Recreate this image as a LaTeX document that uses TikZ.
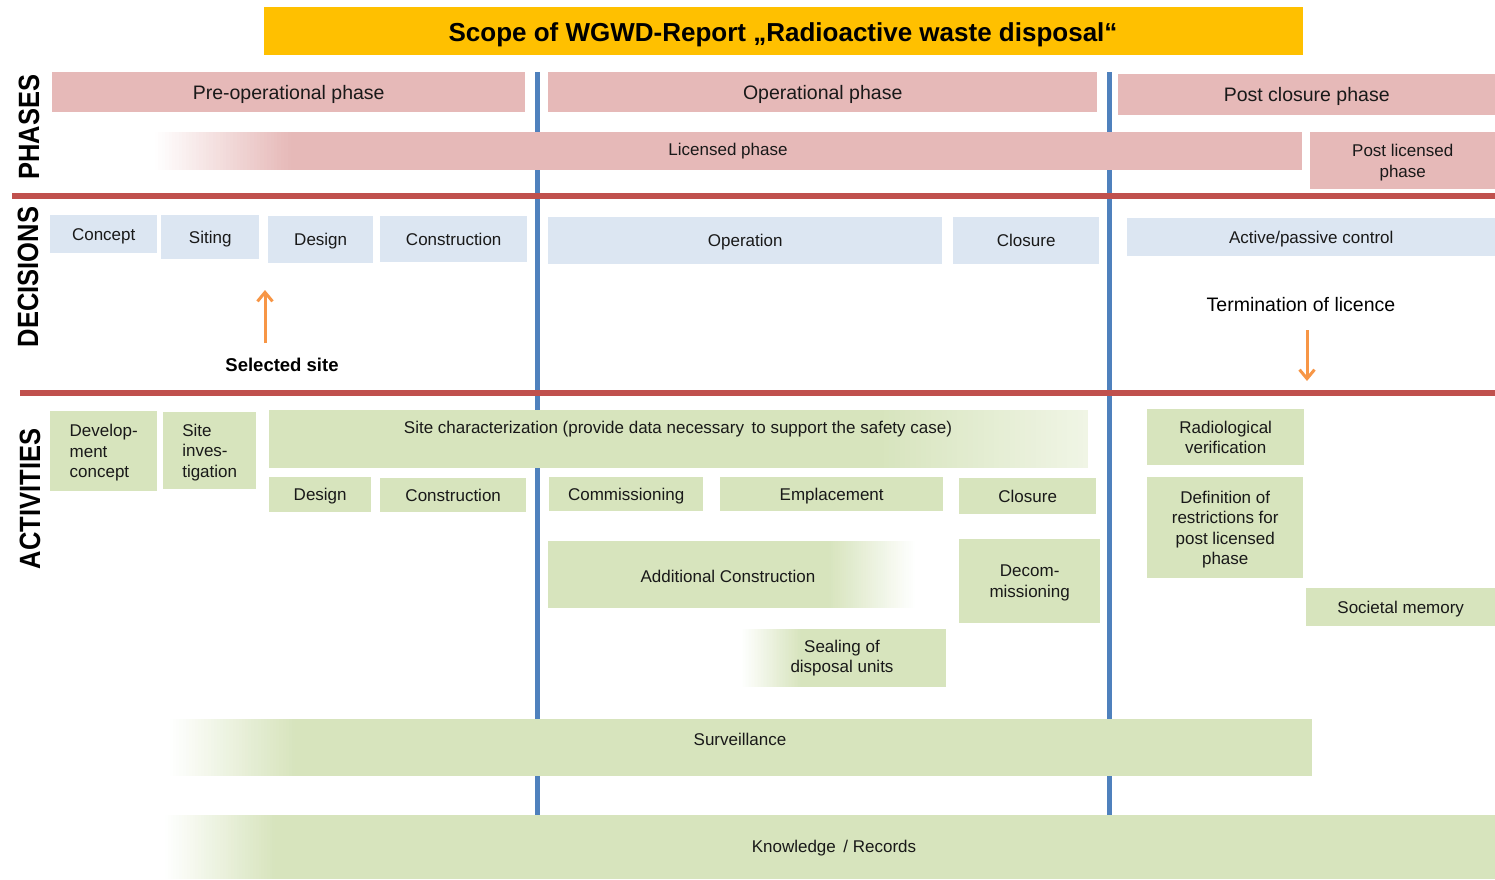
\documentclass[tikz,border=0pt]{standalone}
\usepackage{fontspec}
\setmainfont{Liberation Sans}
\usetikzlibrary{arrows.meta,calc}

\definecolor{phasepink}{RGB}{230,185,184}
\definecolor{decblue}{RGB}{220,230,242}
\definecolor{actgreen}{RGB}{215,228,189}
\definecolor{palegreen}{RGB}{240,245,230}
\definecolor{titleyellow}{RGB}{255,192,0}
\definecolor{divblue}{RGB}{79,129,189}
\definecolor{divred}{RGB}{192,80,77}
\definecolor{arroworange}{RGB}{247,150,70}
\definecolor{ink}{RGB}{25,25,25}

% a box given by its corners: style, x1, y1, x2, y2, name, text
\newcommand\putbox[7]{%
  \node[#1, minimum width={#4-#2}, minimum height={#5-#3}] (#6) at (#2,#3) {#7};}

% horizontal colour ramp in thin strips: x1, y1, x2, y2, start colour, end colour
\newcommand\hfade[6]{%
  \foreach \i in {0,...,39}{%
    \pgfmathsetmacro\xa{#1+(#3-#1)*\i/40}%
    \pgfmathsetmacro\xb{min(#1+(#3-#1)*(\i+1)/40+0.6,#3)}%
    \pgfmathsetmacro\p{(\i+0.5)*2.5}%
    \fill[#6!\p!#5] (\xa,#2) rectangle (\xb,#4);}}

\tikzset{
  box/.style={draw=none, inner sep=0pt, anchor=north west, align=center,
    text depth=0pt, text=ink, font=\fontsize{17}{20.5}\selectfont},
  phasebox/.style={box, fill=phasepink},
  phasehead/.style={phasebox, font=\fontsize{19.5}{22}\selectfont},
  decbox/.style={box, fill=decblue},
  actbox/.style={box, fill=actgreen},
  lbl/.style={inner sep=0pt, text=ink, align=center, font=\fontsize{17}{20.5}\selectfont},
  sidelabel/.style={inner sep=0pt, rotate=90, text=black,
    font=\bfseries\fontsize{25.5}{26}\selectfont},
  divider/.style={line width=5pt, draw=divblue},
  band/.style={line width=6pt, draw=divred},
  pointer/.style={line width=3pt, draw=arroworange,
    -{Straight Barb[length=9pt,width=15pt,line width=3pt]}},
}

\begin{document}
\begin{tikzpicture}[x=1pt, y=-1pt]
\useasboundingbox (0,0) rectangle (1495,879);

% phase dividers
\coordinate (divAtop) at (537,72);
\coordinate (divAbot) at (537,815);
\coordinate (divBtop) at (1109,72);
\coordinate (divBbot) at (1109,815);
\draw[divider] (divAtop) -- (divAbot);
\draw[divider] (divBtop) -- (divBbot);

% section bands
\coordinate (bandAl) at (12,196);
\coordinate (bandAr) at (1495,196);
\coordinate (bandBl) at (20,393);
\coordinate (bandBr) at (1495,393);
\draw[band] (bandAl) -- (bandAr);
\draw[band] (bandBl) -- (bandBr);

% title
\putbox{box, fill=titleyellow}{264}{7}{1303}{55}{title}{}
\node[inner sep=0pt, text=black, font=\bfseries\fontsize{26}{28}\selectfont] (titleText) at (783,35) {Scope of WGWD-Report „Radioactive waste disposal“};

% row labels
\node[sidelabel] (phasesLbl) at (29,127) {\scalebox{1}[1.15]{PHASES}};
\node[sidelabel] (decisionsLbl) at (28,277) {\scalebox{1}[1.15]{DECISIONS}};
\node[sidelabel] (activitiesLbl) at (30,499) {\scalebox{1}[1.15]{ACTIVITIES}};

% phases
\putbox{phasehead}{52}{72}{525}{112}{preop}{Pre-operational phase}
\putbox{phasehead}{548}{72}{1097}{112}{oper}{Operational phase}
\putbox{phasehead}{1118}{74}{1495}{115}{postcl}{Post closure phase}
\putbox{phasebox}{290}{132}{1302}{170}{licensed}{}
\hfade{155}{132}{291}{170}{white}{phasepink}
\node[lbl] (licensedText) at (728,151) {Licensed phase};
\putbox{phasebox}{1310}{132}{1495}{189}{postlic}{Post licensed\\phase}

% decisions
\putbox{decbox}{50}{215}{157}{253}{dConcept}{Concept}
\putbox{decbox}{161}{215}{259}{259}{dSiting}{Siting}
\putbox{decbox}{268}{216}{373}{263}{dDesign}{Design}
\putbox{decbox}{380}{216}{527}{262}{dConstr}{Construction}
\putbox{decbox}{548}{217}{942}{264}{dOper}{Operation}
\putbox{decbox}{953}{217}{1099}{264}{dClosure}{Closure}
\putbox{decbox}{1127}{218}{1495}{256}{dControl}{Active/passive control}

\node[inner sep=0pt, text=black, font=\bfseries\fontsize{18.5}{20}\selectfont] (selSite) at (282,365) {Selected site};
\coordinate (selTail) at (265,343);
\coordinate (selTip) at (265,290);
\draw[pointer] (selTail) -- (selTip);

\node[inner sep=0pt, text=black, font=\fontsize{19.5}{22}\selectfont] (termLic) at (1301,305) {Termination of licence};
\coordinate (termTail) at (1307,330);
\coordinate (termTip) at (1307,381);
\draw[pointer] (termTail) -- (termTip);

% activities
\putbox{actbox, align=left}{50}{411}{157}{491}{aDevConcept}{Develop-\\ment\\concept}
\putbox{actbox, align=left}{163}{412}{256}{489}{aSiteInv}{Site\\inves-\\tigation}
\putbox{actbox}{269}{410}{880}{468}{aSiteChar}{}
\hfade{879}{410}{1088}{468}{actgreen}{palegreen}
\node[lbl] (aSiteCharText) at (678,429) {Site characterization (provide data necessary\, to support the safety case)};
\putbox{actbox}{269}{477}{371}{512}{aDesign}{Design}
\putbox{actbox}{380}{478}{526}{512}{aConstr}{Construction}
\putbox{actbox}{549}{477}{703}{511}{aCommiss}{Commissioning}
\putbox{actbox}{720}{477}{943}{511}{aEmplace}{Emplacement}
\putbox{actbox}{959}{478}{1096}{514}{aClosure}{Closure}
\putbox{actbox}{548}{541}{830}{608}{aAddCons}{}
\hfade{829}{541}{915}{608}{actgreen}{white}
\node[lbl] (aAddConsText) at (728,576) {Additional Construction};
\putbox{actbox}{959}{539}{1100}{623}{aDecom}{Decom-\\missioning}
\putbox{actbox}{800}{629}{946}{687}{aSealing}{}
\hfade{742}{629}{801}{687}{white}{actgreen}
\node[lbl] (aSealingText) at (842,658) {Sealing of\\disposal units};
\putbox{actbox}{1147}{409}{1304}{465}{aRadVer}{Radiological\\verification}
\putbox{actbox}{1147}{477}{1303}{578}{aDefn}{Definition of\\restrictions for\\post licensed\\phase}
\putbox{actbox}{1306}{588}{1495}{626}{aSocietal}{Societal memory}
\putbox{actbox}{294}{719}{1312}{776}{aSurveil}{}
\hfade{170}{719}{295}{776}{white}{actgreen}
\node[lbl] (aSurveilText) at (740,739) {Surveillance};
\putbox{actbox}{274}{815}{1495}{879}{aKnowledge}{}
\hfade{165}{815}{275}{879}{white}{actgreen}
\node[lbl] (aKnowledgeText) at (834,848) {Knowledge\, / Records};

\end{tikzpicture}
\end{document}
